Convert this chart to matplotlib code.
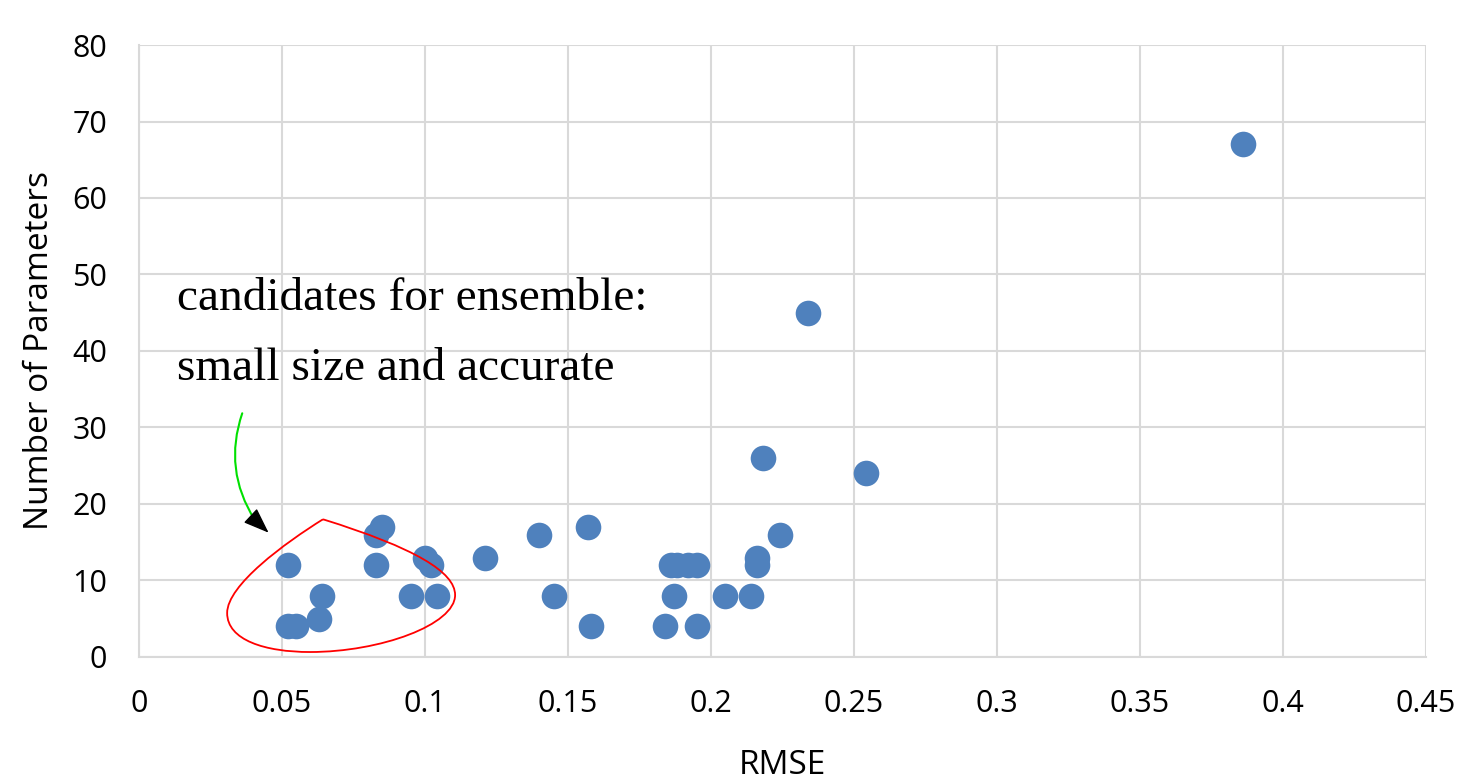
import matplotlib.pyplot as plt
from matplotlib.path import Path
from matplotlib.patches import PathPatch

# RMSE vs number of parameters
rmse = [0.052, 0.052, 0.055, 0.063, 0.064, 0.083, 0.083, 0.085, 0.095, 0.100,
        0.102, 0.104, 0.121, 0.140, 0.145, 0.157, 0.158, 0.184, 0.186, 0.187,
        0.188, 0.192, 0.195, 0.195, 0.205, 0.214, 0.216, 0.216, 0.218, 0.224,
        0.234, 0.254, 0.386]
params = [12, 4, 4, 5, 8, 16, 12, 17, 8, 13,
          12, 8, 13, 16, 8, 17, 4, 4, 12, 8,
          12, 12, 12, 4, 8, 8, 13, 12, 26, 16,
          45, 24, 67]

xticks = [0, 0.05, 0.1, 0.15, 0.2, 0.25, 0.3, 0.35, 0.4, 0.45]
xticklabels = ["0", "0.05", "0.1", "0.15", "0.2", "0.25", "0.3", "0.35", "0.4", "0.45"]
yticks = [0, 10, 20, 30, 40, 50, 60, 70, 80]

tick_font = "Open Sans"
grid_col = "#d9d9d9"

fig = plt.figure(figsize=(14.84, 7.84), dpi=100)
ax = fig.add_axes([0.0937, 0.162, 0.8673, 0.7806])

ax.scatter(rmse, params, s=340, color="#4f81bd", zorder=3, linewidths=0)

ax.set_xlim(0, 0.45)
ax.set_ylim(0, 80)
ax.set_xticks(xticks)
ax.set_xticklabels(xticklabels)
ax.set_yticks(yticks)
ax.grid(True, color=grid_col, lw=1.5)
ax.set_axisbelow(True)
for s in ["top", "right"]:
    ax.spines[s].set_visible(False)
for s in ["left", "bottom"]:
    ax.spines[s].set_color(grid_col)
    ax.spines[s].set_linewidth(1.5)
ax.tick_params(length=0, pad=23, labelsize=22)
for lab in ax.get_xticklabels() + ax.get_yticklabels():
    lab.set_fontfamily(tick_font)

ax.set_xlabel("RMSE", fontsize=24, fontfamily=tick_font, labelpad=22)
ax.set_ylabel("Number of Parameters", fontsize=24, fontfamily=tick_font, labelpad=12)

# annotation text
ax.text(0.0133, 49.6, "candidates for ensemble:\nsmall size and accurate",
        fontsize=34, fontfamily="Liberation Serif", va="top", ha="left",
        linespacing=1.85)

# red teardrop outline around the small/accurate models
verts = [(0.0643, 18.0),
         (0.0510, 14.9), (0.0308, 9.4), (0.0308, 5.75),
         (0.0308, 2.2), (0.0441, 0.65), (0.0598, 0.65),
         (0.0843, 0.65), (0.1105, 4.2), (0.1105, 8.1),
         (0.1105, 11.1), (0.0965, 14.25), (0.0643, 18.0)]
codes = [Path.MOVETO] + [Path.CURVE4] * 12
ax.add_patch(PathPatch(Path(verts, codes), fill=False, edgecolor="red", lw=1.3, zorder=4))

# green curved arrow with black head
ax.annotate("", xy=(0.0410, 17.6), xytext=(0.0364, 32.2),
            arrowprops=dict(arrowstyle="-", color="#00e000", lw=1.5,
                            connectionstyle="arc3,rad=0.25"), zorder=4)
ax.annotate("", xy=(0.0460, 16.0), xytext=(0.0403, 18.0),
            arrowprops=dict(arrowstyle="-|>,head_length=1.6,head_width=0.6",
                            color="black", lw=1.0), zorder=4)

fig.savefig("out.png", dpi=100)
